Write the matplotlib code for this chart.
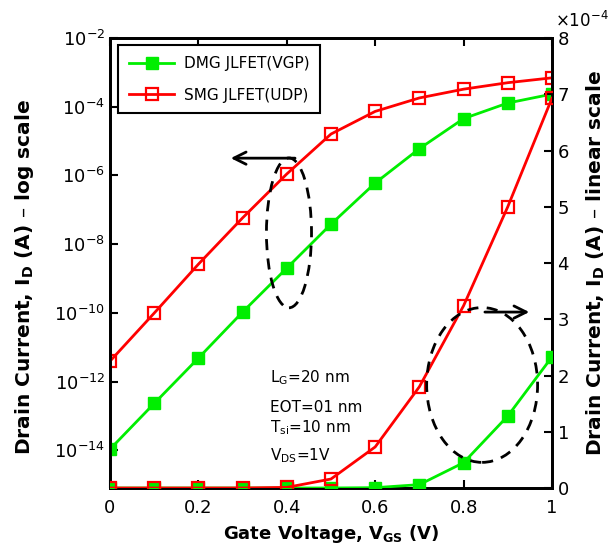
import matplotlib
matplotlib.use("Agg")
import matplotlib.pyplot as plt
from matplotlib.patches import Ellipse
from matplotlib.ticker import ScalarFormatter, FixedLocator, NullLocator

# ---- data ----
vgs = [0.0, 0.1, 0.2, 0.3, 0.4, 0.5, 0.6, 0.7, 0.8, 0.9, 1.0]
id_dmg = [1.07e-14, 2.3e-13, 4.8e-12, 1.05e-10, 2.0e-9, 3.8e-8, 6.0e-7, 6.0e-6, 4.5e-5, 1.28e-4, 2.33e-4]
id_smg = [3.9e-12, 9.8e-11, 2.6e-9, 5.8e-8, 1.1e-6, 1.6e-5, 7.3e-5, 1.80e-4, 3.24e-4, 5.0e-4, 6.93e-4]
label_dmg = "DMG JLFET(VGP)"
label_smg = "SMG JLFET(UDP)"
xticks = [0, 0.2, 0.4, 0.6, 0.8, 1.0]
xticklabels = ["0", "0.2", "0.4", "0.6", "0.8", "1"]
log_ticks = [1e-14, 1e-12, 1e-10, 1e-8, 1e-6, 1e-4, 1e-2]
lin_ticks = [0, 1e-4, 2e-4, 3e-4, 4e-4, 5e-4, 6e-4, 7e-4, 8e-4]
params = [r"L$_\mathregular{G}$=20 nm", "EOT=01 nm", r"T$_\mathregular{si}$=10 nm", r"V$_\mathregular{DS}$=1V"]

GREEN = "#00ee00"
RED = "#ff0000"

plt.rcParams["font.family"] = ["DejaVu Sans"]
plt.rcParams["mathtext.fontset"] = "dejavusans"

fig = plt.figure(figsize=(6.12, 5.5), dpi=100)
ax = fig.add_axes([0.1797, 0.1127, 0.7222, 0.8182])
ax2 = ax.twinx()

lw = 2.0
ms = 8.5
# log axis
ax.semilogy(vgs, id_dmg, color=GREEN, lw=lw, marker="s", ms=ms, mfc=GREEN, mec=GREEN, label=label_dmg, zorder=3)
ax.semilogy(vgs, id_smg, color=RED, lw=lw, marker="s", ms=ms, mfc="none", mec=RED, mew=1.6, label=label_smg, zorder=3)
# linear axis
ax2.plot(vgs, id_dmg, color=GREEN, lw=lw, marker="s", ms=ms, mfc=GREEN, mec=GREEN, zorder=3)
ax2.plot(vgs, id_smg, color=RED, lw=lw, marker="s", ms=ms, mfc="none", mec=RED, mew=1.6, zorder=3)

ax.set_xlim(0, 1)
ax.set_ylim(10 ** -15.1, 1e-2)
ax2.set_ylim(0, 8e-4)

ax.set_xticks(xticks)
ax.set_xticklabels(xticklabels)
ax.yaxis.set_major_locator(FixedLocator(log_ticks))
ax.yaxis.set_minor_locator(NullLocator())

ax2.set_yticks(lin_ticks)
fmt = ScalarFormatter(useMathText=True)
fmt.set_powerlimits((-4, -4))
ax2.yaxis.set_major_formatter(fmt)

for a in (ax, ax2):
    a.tick_params(direction="in", length=6, width=1.5, labelsize=13, top=True)
    for s in a.spines.values():
        s.set_linewidth(2)
ax.tick_params(axis="x", pad=8)
off = ax2.yaxis.get_offset_text()
off.set_fontsize(12)
off.set_horizontalalignment("left")
off.set_x(1.006)
ax2.yaxis.OFFSETTEXTPAD = 8

ax.set_xlabel(r"Gate Voltage, V$_\mathregular{GS}$ (V)", fontsize=13, fontweight="bold", labelpad=4)
ax.set_ylabel(r"Drain Current, I$_\mathregular{D}$ (A) – log scale", fontsize=14.5, fontweight="bold")
ax.yaxis.set_label_coords(-0.167, 0.469)
ax2.set_ylabel(r"Drain Current, I$_\mathregular{D}$ (A) – linear scale", fontsize=14.5, fontweight="bold", labelpad=11)

leg = ax.legend(loc="upper left", bbox_to_anchor=(0.018, 0.984), borderaxespad=0, fontsize=11, handlelength=3.0,
                fancybox=False, framealpha=1, edgecolor="black", borderpad=0.7, labelspacing=1.1, handletextpad=0.6)
leg.get_frame().set_linewidth(1.5)

# annotations (axes fraction coordinates)
ax2.add_patch(Ellipse((0.405, 0.567), 0.102, 0.333, transform=ax.transAxes, fill=False,
                      ec="black", lw=2, ls=(0, (4, 3)), zorder=4))
ax2.add_patch(Ellipse((0.842, 0.229), 0.251, 0.344, transform=ax.transAxes, fill=False,
                      ec="black", lw=2, ls=(0, (4, 3)), zorder=4))
ax2.annotate("", xy=(0.267, 0.733), xytext=(0.425, 0.733), xycoords="axes fraction",
             arrowprops=dict(arrowstyle="->", lw=2, color="black", mutation_scale=22))
ax2.annotate("", xy=(0.955, 0.391), xytext=(0.842, 0.391), xycoords="axes fraction",
             arrowprops=dict(arrowstyle="->", lw=2, color="black", mutation_scale=22))

ys = [0.236, 0.169, 0.124, 0.062]
for t, y in zip(params, ys):
    ax2.text(0.362, y, t, transform=ax.transAxes, fontsize=11, va="baseline", ha="left")

fig.savefig("out.png", dpi=100)
